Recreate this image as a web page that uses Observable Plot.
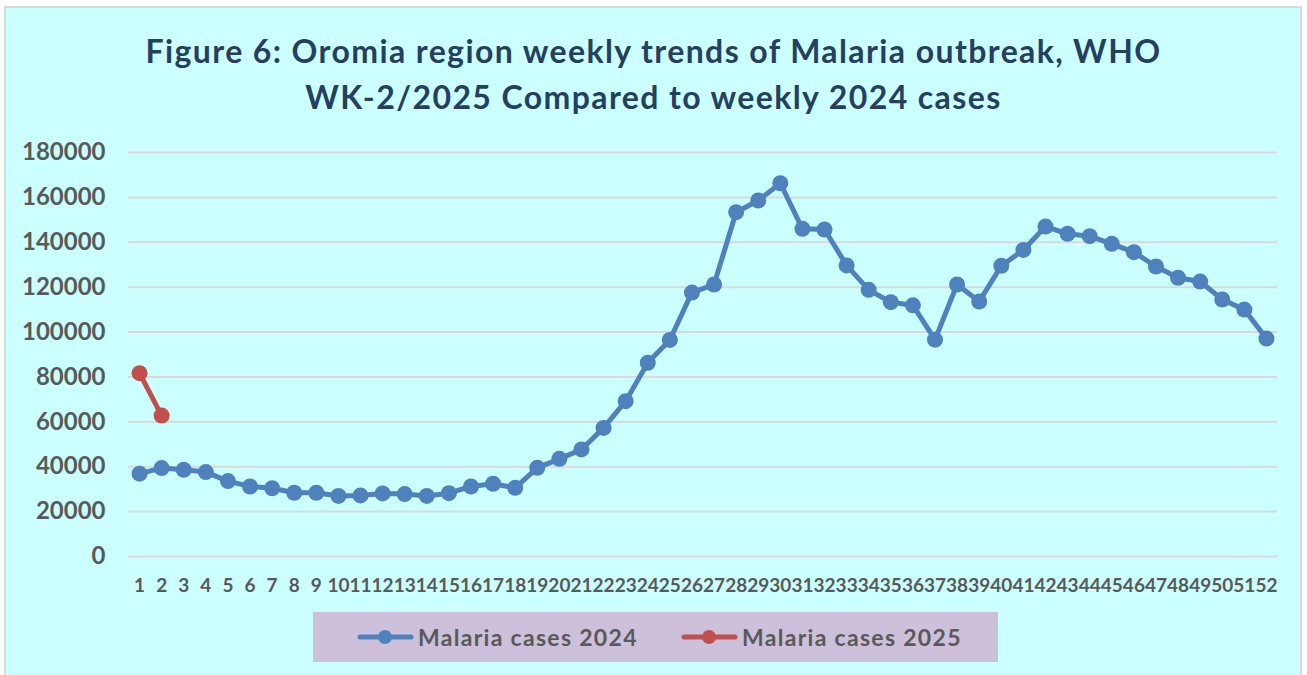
<!DOCTYPE html>
<html>
<head>
<meta charset="utf-8">
<script src="https://cdn.jsdelivr.net/npm/d3@7"></script>
<script src="https://cdn.jsdelivr.net/npm/@observablehq/plot@0.6"></script>
<style>
  html, body { margin: 0; padding: 0; background: #ffffff; }
  #page { position: relative; width: 1307px; height: 675px; overflow: hidden; font-family: Lato, "Open Sans", sans-serif; }
  #frame { position: absolute; left: 4px; top: 6px; width: 1294px; height: 700px; background: #CCFFFF; border: 2px solid #D9D9D9; }
  #title { position: absolute; left: 0; top: 28px; width: 1307px; text-align: center; color: #243F60; font-weight: 700; font-size: 32px; line-height: 46px; letter-spacing: 1.4px; }
  #chart { position: absolute; left: 0; top: 120px; }
  #legend { position: absolute; left: 313px; top: 612px; width: 685px; height: 50px; background: #CCC0DA; }
  .item { position: absolute; top: 0; height: 50px; display: flex; align-items: center; color: #595959; font-weight: 700; font-size: 23px; letter-spacing: 1.3px; }
  .item svg { margin-right: 4px; }
</style>
</head>
<body>
<div id="page">
  <div id="frame"></div>
  <div id="title"></div>
  <div id="chart"></div>
  <div id="legend"></div>
</div>
<script>
// ---- data ----
const titleLines = [
  "Figure 6: Oromia region weekly trends of Malaria outbreak, WHO",
  "WK-2/2025 Compared to weekly 2024 cases"
];
const weeks = [1,2,3,4,5,6,7,8,9,10,11,12,13,14,15,16,17,18,19,20,21,22,23,24,25,26,
               27,28,29,30,31,32,33,34,35,36,37,38,39,40,41,42,43,44,45,46,47,48,49,50,51,52];
const cases2024 = [36900,39400,38600,37600,33600,31200,30400,28400,28400,27000,27200,28100,27800,27000,28200,31200,32400,30600,39500,43500,
                   47700,57300,69200,86300,96500,117600,121200,153400,158600,166300,146000,145700,129700,118800,113300,111900,96600,121200,113600,129500,
                   136600,147000,143800,142700,139300,135600,129200,124200,122500,114500,110000,97100];
const weeks2025 = [1,2];
const cases2025 = [81700,62800];
const yTicks = [0,20000,40000,60000,80000,100000,120000,140000,160000,180000];
const seriesNames = ["Malaria cases 2024","Malaria cases 2025"];
const seriesColors = ["#4F81BD","#C0504D"];

// ---- title ----
document.getElementById("title").innerHTML = titleLines.map(t => `<div>${t}</div>`).join("");

// ---- chart ----
const rows2024 = weeks.map((w,i) => ({week: w, value: cases2024[i], series: seriesNames[0]}));
const rows2025 = weeks2025.map((w,i) => ({week: w, value: cases2025[i], series: seriesNames[1]}));

const chart = Plot.plot({
  width: 1307,
  height: 480,
  marginTop: 32,
  marginBottom: 44,
  marginLeft: 128,
  marginRight: 30,
  style: {background: "transparent", fontFamily: "Lato, 'Open Sans', sans-serif", overflow: "visible"},
  x: {type: "linear", domain: [0.5, 52.5], axis: null},
  y: {domain: [0, 180000], axis: null},
  marks: [
    Plot.ruleY(yTicks, {stroke: "#D9D9D9", strokeWidth: 2}),
    Plot.axisY({ticks: yTicks, tickSize: 0, tickPadding: 23, tickFormat: d => String(d),
                fontSize: 24, fontWeight: "bold", fill: "#595959", label: null}),
    Plot.axisX({ticks: weeks, tickSize: 0, tickPadding: 22, tickFormat: d => String(d),
                fontSize: 19, fontWeight: "bold", fill: "#595959", label: null}),
    Plot.line(rows2024, {x: "week", y: "value", stroke: seriesColors[0], strokeWidth: 5, strokeLinejoin: "round"}),
    Plot.dot(rows2024, {x: "week", y: "value", r: 8, fill: seriesColors[0], stroke: "none"}),
    Plot.line(rows2025, {x: "week", y: "value", stroke: seriesColors[1], strokeWidth: 5, strokeLinejoin: "round"}),
    Plot.dot(rows2025, {x: "week", y: "value", r: 8, fill: seriesColors[1], stroke: "none"})
  ]
});
document.getElementById("chart").appendChild(chart);

// ---- legend ----
const legendLeft = [44, 368];
const legend = document.getElementById("legend");
seriesNames.forEach((name, i) => {
  const div = document.createElement("div");
  div.className = "item";
  div.style.left = legendLeft[i] + "px";
  div.innerHTML = `<svg width="57" height="20"><line x1="3" y1="10" x2="54" y2="10" stroke="${seriesColors[i]}" stroke-width="5" stroke-linecap="round"/><circle cx="28" cy="10" r="7" fill="${seriesColors[i]}"/></svg><span>${name}</span>`;
  legend.appendChild(div);
});
</script>
</body>
</html>
